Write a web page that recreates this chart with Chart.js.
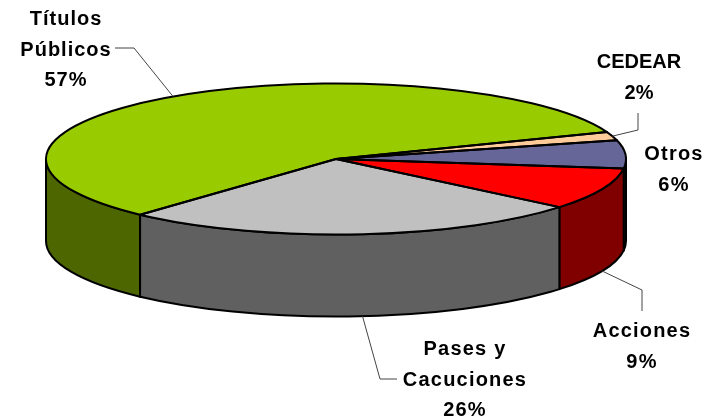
<!DOCTYPE html>
<html><head><meta charset="utf-8">
<style>html,body{margin:0;padding:0;background:#fff}canvas{display:block}</style>
<script src="https://cdn.jsdelivr.net/npm/chart.js@4"></script>
</head><body><canvas id="c" width="709" height="419"></canvas>
<script>
const categories = ['Títulos Públicos','CEDEAR','Otros','Acciones','Pases y Cacuciones'];
const values = [57.4,1.8,6.0,9.0,25.8];
const topColors = ['#99cc00','#ffcc99','#666699','#ff0000','#c0c0c0'];
const wallColors = ['#4d6600','#806040','#333366','#800000','#606060'];
const labelLines = [['Títulos','Públicos'],['CEDEAR'],['Otros'],['Acciones'],['Pases y','Cacuciones']];
const labelX = [66,639,674,642,465];
const labelY = [25,68,160,337,355];
const labelSpacing = [1,0,1.2,1.2,1.2];
const leaders = [
  {onWall:false,shift:0,pts:[[134,48],[115,48]]},
  {onWall:false,shift:0,pts:[[638,130],[638,113]]},
  null,
  {onWall:true,shift:0,pts:[[642,290],[642,311]]},
  {onWall:true,shift:-1.3,pts:[[380,379],[397,379]]}
];
const PIE = {cx:336,cy:159,rx:290,ry:75.5,depth:82};
const FONT = 'bold 20px "Liberation Sans", Arial, sans-serif';
const LINE_H = 30.5;

const pie3d = {
  id:'pie3d',
  beforeDatasetsDraw(chart){
    const ctx=chart.ctx, arcs=chart.getDatasetMeta(0).data;
    const {cx,cy,rx,ry,depth}=PIE;
    ctx.save();
    ctx.lineWidth=2; ctx.strokeStyle='#000'; ctx.lineJoin='round';
    arcs.forEach((arc,i)=>{
      for(const k of [-1,0,1,2]){
        const lo=Math.max(arc.startAngle,2*Math.PI*k), hi=Math.min(arc.endAngle,2*Math.PI*k+Math.PI);
        if(hi<=lo) continue;
        ctx.beginPath();
        ctx.ellipse(cx,cy,rx,ry,0,lo,hi);
        ctx.ellipse(cx,cy+depth,rx,ry,0,hi,lo,true);
        ctx.closePath();
        ctx.fillStyle=wallColors[i];
        ctx.fill(); ctx.stroke();
      }
    });
    ctx.restore();
    const a=arcs[0], s=1/a.outerRadius;
    ctx.save();
    ctx.translate(cx,cy);
    ctx.scale(rx*s,ry*s);
    ctx.translate(-a.x,-a.y);
  },
  afterDatasetsDraw(chart){
    const ctx=chart.ctx, arcs=chart.getDatasetMeta(0).data;
    const {cx,cy,rx,ry,depth}=PIE;
    ctx.restore();
    ctx.save();
    ctx.lineWidth=2; ctx.strokeStyle='#000'; ctx.lineJoin='round';
    arcs.forEach(arc=>{
      ctx.beginPath();
      ctx.moveTo(cx,cy);
      ctx.ellipse(cx,cy,rx,ry,0,arc.startAngle,arc.endAngle);
      ctx.closePath();
      ctx.stroke();
    });
    ctx.lineWidth=1; ctx.strokeStyle='#444';
    leaders.forEach((l,i)=>{
      if(!l) return;
      const arc=arcs[i];
      const m=(arc.startAngle+arc.endAngle)/2+l.shift*Math.PI/180;
      ctx.beginPath();
      ctx.moveTo(cx+rx*Math.cos(m),cy+ry*Math.sin(m)+(l.onWall?depth:0));
      l.pts.forEach(p=>ctx.lineTo(p[0],p[1]));
      ctx.stroke();
    });
    ctx.font=FONT; ctx.fillStyle='#000'; ctx.textAlign='center'; ctx.textBaseline='alphabetic';
    categories.forEach((c,i)=>{
      if('letterSpacing' in ctx) ctx.letterSpacing=labelSpacing[i]+'px';
      const lines=[...labelLines[i],Math.round(values[i])+'%'];
      lines.forEach((t,j)=>ctx.fillText(t,labelX[i],labelY[i]+j*LINE_H));
    });
    ctx.restore();
  }
};

new Chart(document.getElementById('c'),{
  type:'pie',
  data:{labels:categories,datasets:[{data:values,backgroundColor:topColors,borderWidth:0}]},
  options:{
    responsive:false,animation:false,rotation:222.5,
    plugins:{legend:{display:false},tooltip:{enabled:false},title:{display:false}}
  },
  plugins:[pie3d]
});
</script></body></html>
